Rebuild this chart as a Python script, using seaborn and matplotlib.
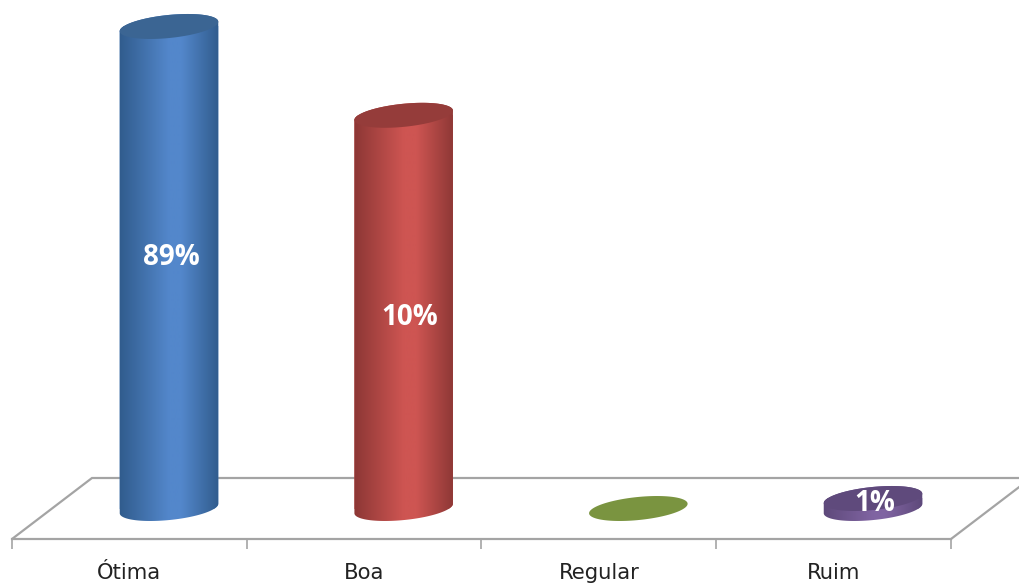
import numpy as np
import pandas as pd
import matplotlib
matplotlib.use("Agg")
import matplotlib.pyplot as plt
from matplotlib.colors import LinearSegmentedColormap
from matplotlib.path import Path
from matplotlib.patches import PathPatch, Polygon
from matplotlib.transforms import IdentityTransform
import seaborn as sns

# Data
categories = ["Ótima", "Boa", "Regular", "Ruim"]
drawn_heights = [89.0, 72.6, 0.0, 1.85]     # visual height of each cylinder (the drawing is not proportional)
value_labels = ["89%", "10%", "", "1%"]
side_dark = ["#2F5A8A", "#8A3634", "#6B9040", "#5C4878"]
side_light = ["#5387CB", "#CE5552", "#7A9440", "#8064A2"]
top_colors = ["#3B6593", "#953C3A", "#7A9440", "#5F4A7C"]

W, H = 1020, 586
DPI = 100
sns.set_theme(style="white")
plt.rcParams["font.family"] = ["Open Sans", "DejaVu Sans"]

fig = plt.figure(figsize=(W / DPI, H / DPI), dpi=DPI, facecolor="white")
ax = fig.add_axes([0, 0, 1, 1])

df = pd.DataFrame({"categoria": categories, "altura": drawn_heights})
sns.barplot(data=df, x="categoria", y="altura", hue="categoria",
            palette=side_light, legend=False, width=0.4219, ax=ax,
            saturation=1, zorder=2, linewidth=0)

# Scales: category spacing and value unit in pixels, base of cylinders at pixel row 508.5
step_px, unit_px, first_px, base_row = 234.67, 5.416, 169.0, 508.5
xlim = (-first_px / step_px, (W - first_px) / step_px)
ylim = (-(H - base_row) / unit_px, base_row / unit_px)
ax.set_xlim(*xlim)
ax.set_ylim(*ylim)
ax.axis("off")


def ellipse_pts(cx, cy, a=49.5, b=11.5, tilt=np.deg2rad(5.8), n=240):
    t = np.linspace(0, 2 * np.pi, n, endpoint=False)
    x = a * np.cos(t)
    y = b * np.sin(t)
    return np.column_stack([cx + x * np.cos(tilt) - y * np.sin(tilt),
                            cy + x * np.sin(tilt) + y * np.cos(tilt)])


def arc(pts, upper):
    i0, i1 = np.argmax(pts[:, 0]), np.argmin(pts[:, 0])
    rolled = np.roll(pts, -i0, axis=0)
    k = (i1 - i0) % len(pts)
    return rolled[:k + 1] if upper else np.vstack([rolled[k:], rolled[:1]])


# Floor: front edge is a real axis, the rest follows its depth offset
front = fig.add_axes([12 / W, 1 - 539 / H, (951 - 12) / W, 1 / H], facecolor="none")
front.set_xlim(-0.5, 3.5)
front.set_ylim(0, 1)
for s in ["top", "left", "right"]:
    front.spines[s].set_visible(False)
grey = "#A4A4A4"
front.spines["bottom"].set_color(grey)
front.spines["bottom"].set_linewidth(1.6)
front.set_yticks([])
front.set_xticks(np.arange(-0.5, 4.0, 1.0))
front.set_xticklabels([])
front.set_xticks(range(len(categories)), minor=True)
front.set_xticklabels(categories, minor=True, fontsize=15.2, family="DejaVu Sans", color="#222222")
front.tick_params(axis="x", which="major", length=7.5, width=1.2, color=grey, bottom=True)
front.tick_params(axis="x", which="minor", length=0, pad=17.5, bottom=True)

dx, dy = 80, 61
floor_pts = np.array([[12, H - 539], [12 + dx, H - 539 + dy], [951 + dx, H - 539 + dy], [951, H - 539]])
ax.add_patch(Polygon(floor_pts, closed=False, fill=False, edgecolor=grey, linewidth=1.6,
                     transform=IdentityTransform(), zorder=1))

# Cylinders are built on the bars that seaborn drew
for i, patch in enumerate(ax.patches[:len(categories)]):
    x0, w, h = patch.get_x(), patch.get_width(), patch.get_height()
    cx_data = x0 + w / 2
    base = ax.transData.transform((cx_data, 0))
    top = ax.transData.transform((cx_data, h))
    base_e = ellipse_pts(*base)
    top_e = ellipse_pts(*top)
    if h > 0:
        body = np.vstack([arc(base_e, upper=False), arc(top_e, upper=True)])
        body_path = Path(np.vstack([body, body[0]]), closed=True)
        patch.set_clip_path(body_path, IdentityTransform())
        cmap = LinearSegmentedColormap.from_list(
            "c", [(0, side_dark[i]), (0.5, side_light[i]), (0.62, side_light[i]), (1, side_dark[i])])
        im = ax.imshow(np.linspace(0, 1, 200)[None, :], cmap=cmap, aspect="auto", zorder=2.5,
                       extent=[x0 - 0.01, x0 + w + 0.01, ylim[0], ylim[1]], interpolation="bilinear")
        im.set_clip_path(body_path, IdentityTransform())
    else:
        patch.set_visible(False)
    ax.add_patch(PathPatch(Path(np.vstack([top_e, top_e[0]]), closed=True), facecolor=top_colors[i],
                           edgecolor="none", transform=IdentityTransform(), zorder=3))

ax.set_xlim(*xlim)
ax.set_ylim(*ylim)

# Value labels sit near each cylinder's middle, nudged in pixels
nudges = [(2, 10), (6, -6), (0, 0), (2, 0)]
for i, lab in enumerate(value_labels):
    if lab:
        ax.annotate(lab, (i, drawn_heights[i] / 2), xytext=nudges[i], textcoords="offset pixels",
                    ha="center", va="center", color="white", fontsize=20, fontweight="bold",
                    zorder=5, family="Open Sans")

fig.savefig("out.png", dpi=DPI, facecolor="white")
